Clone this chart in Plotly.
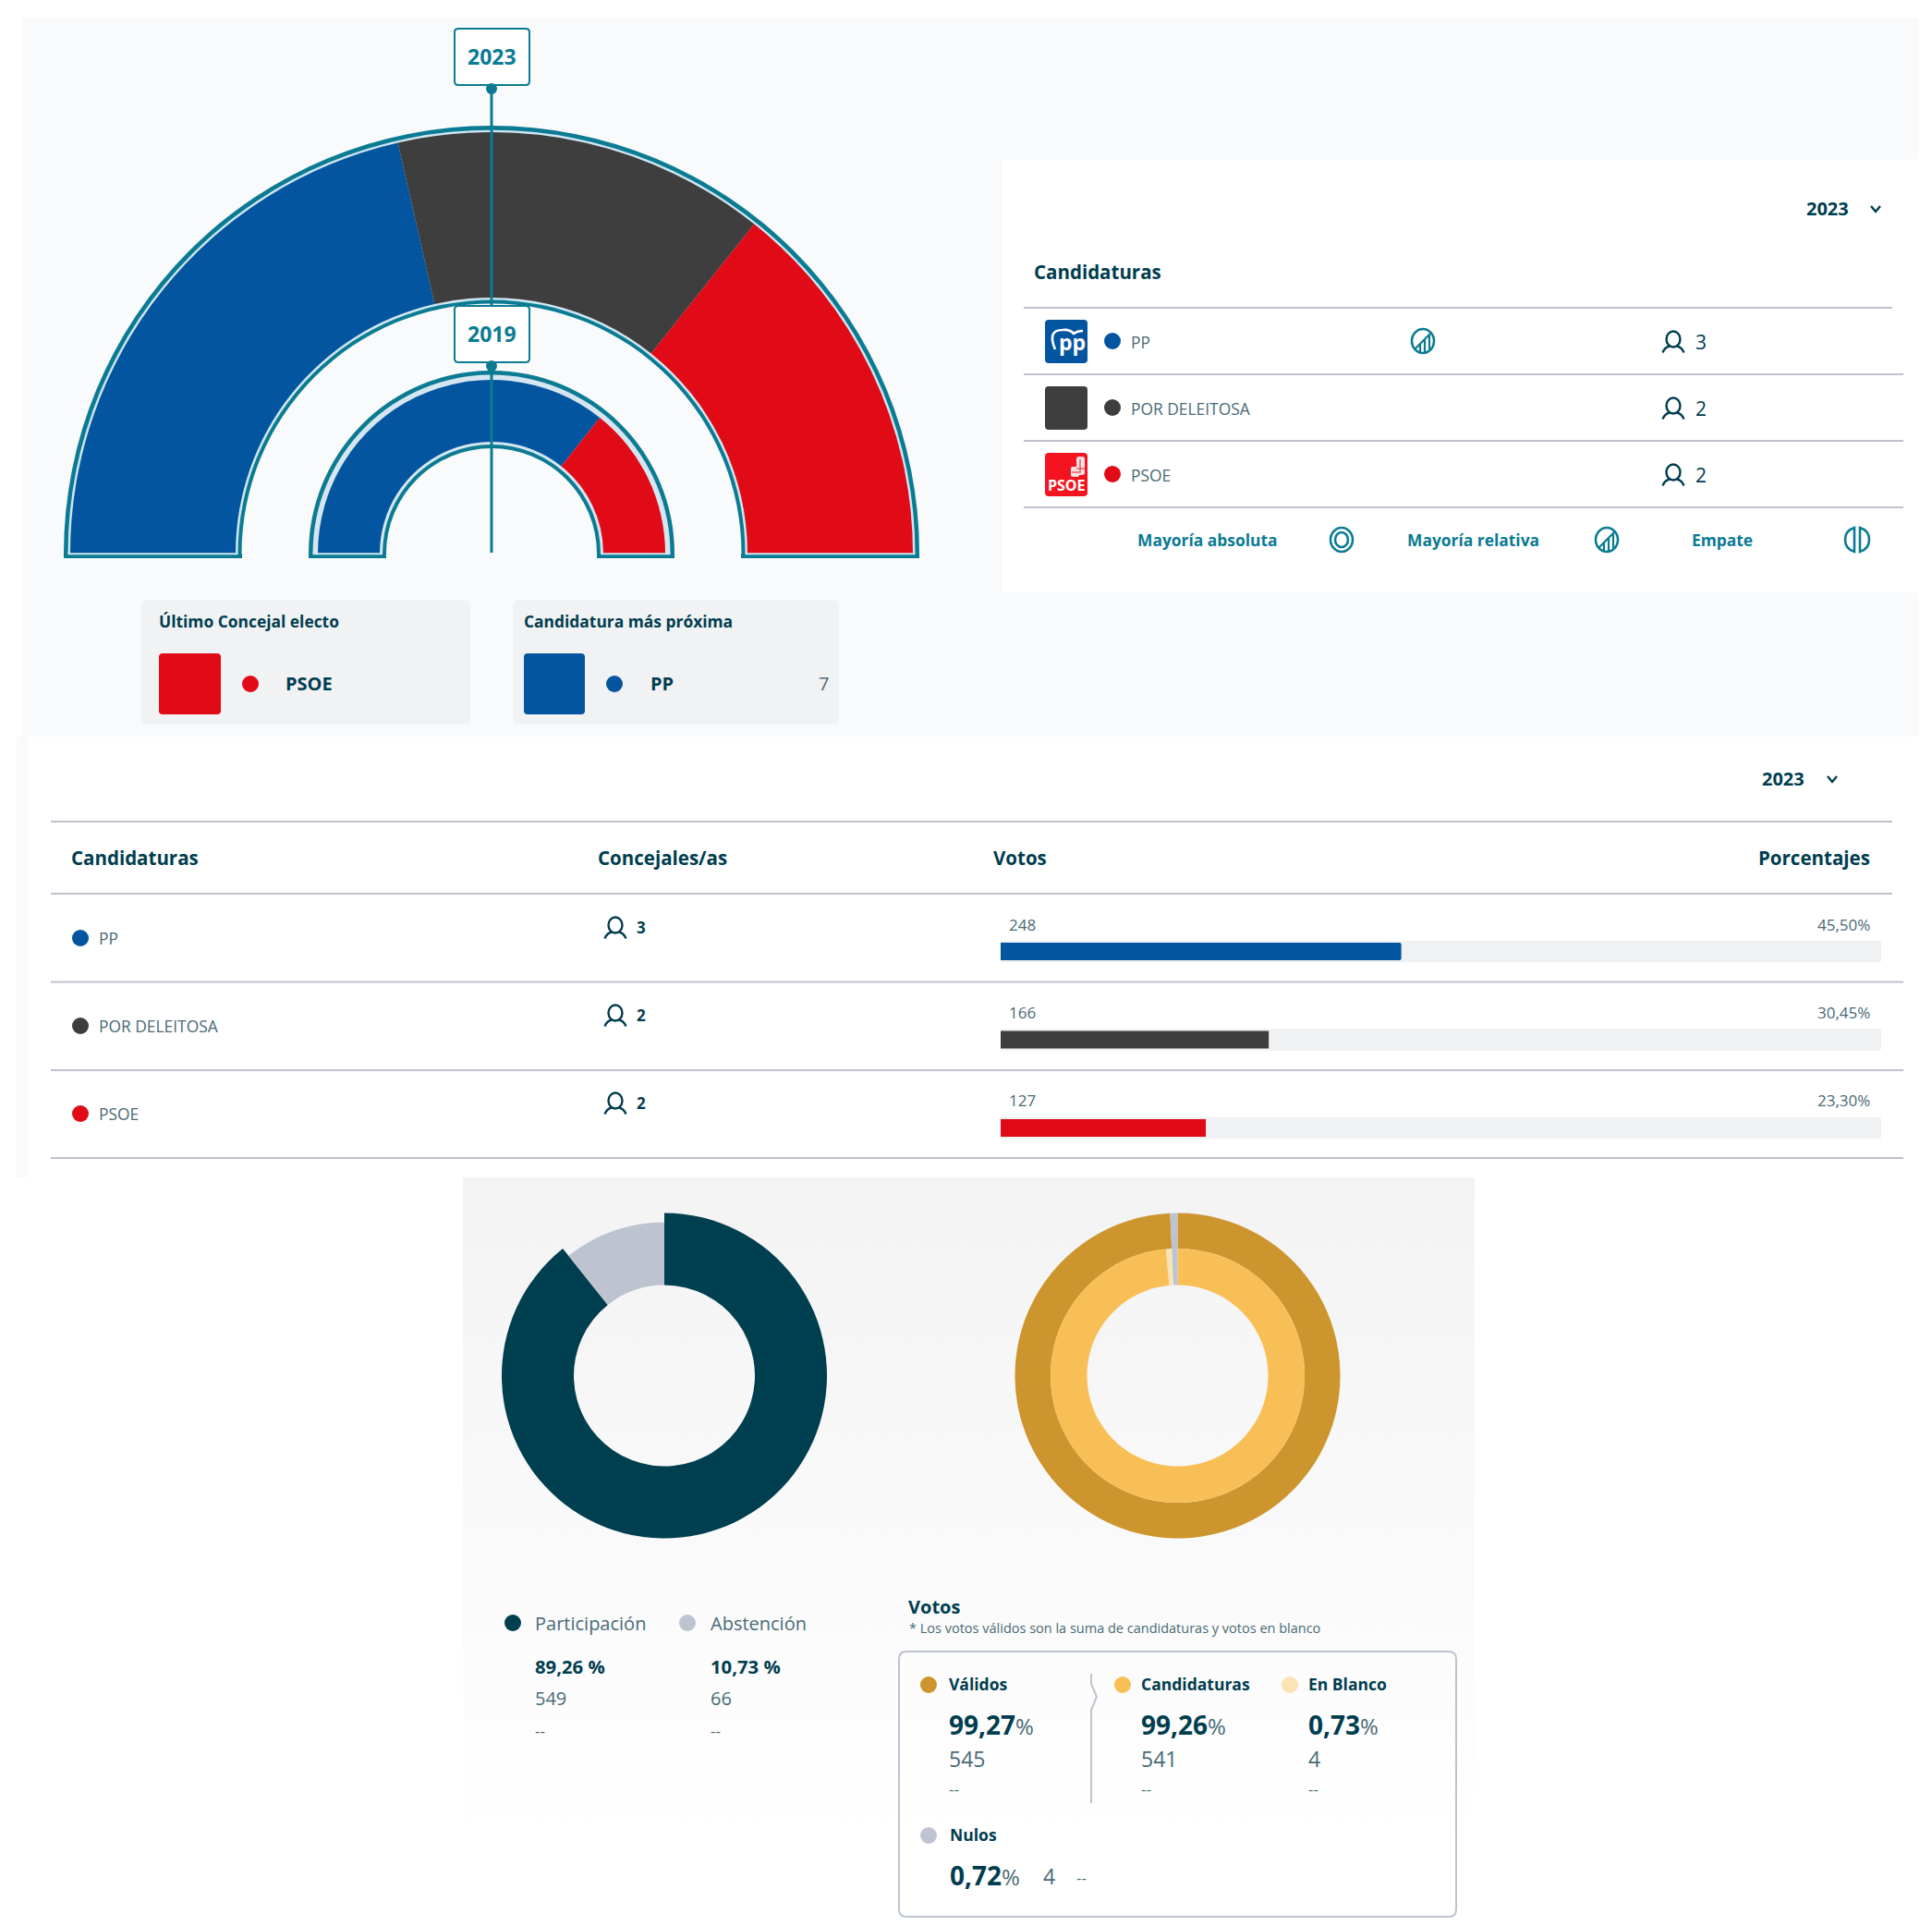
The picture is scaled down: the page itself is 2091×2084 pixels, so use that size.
import plotly.graph_objects as go

W, H = 2091, 2084
parties = ["PP", "POR DELEITOSA", "PSOE"]
party_colors = ["#04559F", "#3E3E3E", "#E10A17"]
seats_2023 = [3, 2, 2]
seats_2019 = [5, 0, 2]
votes = [248, 166, 127]
vote_pct = [45.50, 30.45, 23.30]
vote_pct_labels = ["45,50%", "30,45%", "23,30%"]
year_labels = ["2023", "2019"]
turnout_labels = ["Participación", "Abstención"]
turnout_values = [549, 66]
turnout_pct_labels = ["89,26 %", "10,73 %"]
valid_labels = ["Válidos", "Nulos"]
valid_values = [545, 4]
inner_labels = ["Candidaturas", "En Blanco", "Nulos"]
inner_values = [541, 4, 4]

TEAL, DARK, MUTED = "#0B7B93", "#003D4F", "#4A6A76"
LIGHT = "#CFE6F0"
CLEAR = "rgba(0,0,0,0)"
FONT = "Open Sans"

fig = go.Figure()
shapes, notes = [], []


def rect(x0, y0, x1, y1, fill, layer="below", line=None, lw=0, r=0):
    if r:
        p = (f"M{x0+r},{y0} L{x1-r},{y0} Q{x1},{y0} {x1},{y0+r} L{x1},{y1-r} Q{x1},{y1} {x1-r},{y1} "
             f"L{x0+r},{y1} Q{x0},{y1} {x0},{y1-r} L{x0},{y0+r} Q{x0},{y0} {x0+r},{y0} Z")
        shapes.append(dict(type="path", path=p, fillcolor=fill, layer=layer, xref="x", yref="y",
                           line=dict(color=line or CLEAR, width=lw)))
    else:
        shapes.append(dict(type="rect", x0=x0, y0=y0, x1=x1, y1=y1, fillcolor=fill, layer=layer,
                           xref="x", yref="y", line=dict(color=line or CLEAR, width=lw)))


def hline(x0, x1, y, color="#BFC2CB", lw=2):
    shapes.append(dict(type="line", x0=x0, x1=x1, y0=y, y1=y, xref="x", yref="y", layer="below",
                       line=dict(color=color, width=lw)))


def txt(x, y, s, size=17, color=MUTED, bold=False, anchor="left"):
    dx = {"left": -1.2, "right": 1.2, "center": 0}[anchor]
    notes.append(dict(x=x + dx, y=y - 0.7, xref="x", yref="y", text=f"<b>{s}</b>" if bold else s, showarrow=False,
                      xanchor=anchor, yanchor="middle", borderpad=0,
                      font=dict(family=FONT, size=size, color=color)))


def dot(xs, ys, colors, size=18):
    fig.add_trace(go.Scatter(x=xs, y=ys, mode="markers", hoverinfo="skip", showlegend=False,
                             marker=dict(color=colors, size=size, line=dict(width=0)), xaxis="x", yaxis="y"))


def pie(cx, cy, r, hole, values, colors, rotation=0):
    fig.add_trace(go.Pie(values=values, marker=dict(colors=colors, line=dict(width=0)), hole=hole / r,
                         sort=False, direction="clockwise", rotation=rotation, textinfo="none",
                         hoverinfo="skip", showlegend=False,
                         domain=dict(x=[(cx - r) / W, (cx + r) / W], y=[1 - (cy + r) / H, 1 - (cy - r) / H])))


def person(x, y, s=1.0, color=DARK):
    shapes.append(dict(type="circle", x0=x - 7.5 * s, x1=x + 7.5 * s, y0=y - 11 * s, y1=y + 6 * s, xref="x", yref="y",
                       layer="above", line=dict(color=color, width=2.4)))
    shapes.append(dict(type="path", xref="x", yref="y", layer="above", line=dict(color=color, width=2.4),
                       path=f"M{x-11.5*s},{y+12*s} Q{x-9*s},{y+6*s} {x-4*s},{y+5*s} M{x+11.5*s},{y+12*s} Q{x+9*s},{y+6*s} {x+4*s},{y+5*s}"))


def chevron(x, y):
    shapes.append(dict(type="path", xref="x", yref="y", layer="above", line=dict(color=DARK, width=2.4),
                       path=f"M{x-5},{y-3} L{x},{y+3} L{x+5},{y-3}"))


def ring(x, y, rx, ry=None, lw=2.6):
    ry = ry or rx
    shapes.append(dict(type="circle", x0=x - rx, x1=x + rx, y0=y - ry, y1=y + ry, xref="x", yref="y", layer="above",
                       line=dict(color=TEAL, width=lw)))


def icon_rel(x, y):
    ring(x, y, 12, 13)
    shapes.append(dict(type="path", xref="x", yref="y", layer="above", line=dict(color=TEAL, width=2.2),
                       path=f"M{x-9},{y+9} L{x+9},{y-9} M{x-3},{y+3} L{x-3},{y+12} M{x+2},{y-2} L{x+2},{y+12} M{x+7},{y-6} L{x+7},{y+9}"))


def icon_abs(x, y):
    ring(x, y, 12, 13)
    ring(x, y, 7, 8)


def icon_tie(x, y):
    shapes.append(dict(type="path", xref="x", yref="y", layer="above", line=dict(color=TEAL, width=2.6),
                       path=f"M{x-3},{y-13} Q{x-13},{y-10} {x-13},{y} Q{x-13},{y+10} {x-3},{y+13} Z "
                            f"M{x+3},{y-13} Q{x+13},{y-10} {x+13},{y} Q{x+13},{y+10} {x+3},{y+13} Z"))


# panels
rect(24, 19, 2076, 797, "#F8FAFB")
rect(1085, 173, 2091, 641, "#FFFFFF")
rect(18, 797, 30, 1274, "#F8FAFB")
fig.add_trace(go.Scatter(x=[501, 1596, 1596, 501, 501], y=[1274, 1274, 2084, 2084, 1274], mode="lines", fill="toself",
                         line=dict(width=0), hoverinfo="skip", showlegend=False,
                         fillgradient=dict(type="vertical", colorscale=[[0, "#FFFFFF"], [0.12, "#FFFFFF"], [1, "#F3F3F4"]])))

# hemicycles
half_2023 = sum(seats_2023)
half_2019 = sum(seats_2019)
CX, CY = 532, 599
pie(CX, CY, 463, 270.5, [1, 1], [TEAL, CLEAR], 270)
pie(CX, CY, 458.5, 274.5, [1, 1], [LIGHT, CLEAR], 270)
pie(CX, CY, 456, 277, seats_2023 + [half_2023], party_colors + [CLEAR], 270)
pie(CX, CY, 198, 114, [1, 1], [TEAL, CLEAR], 270)
pie(CX, CY, 193.5, 118, [1, 1], ["#D5E6F0", CLEAR], 270)
pie(CX, CY, 188, 121, seats_2019 + [half_2019], party_colors + [CLEAR], 270)

for x0, x1 in [(69, 262), (802, 995), (334, 418), (646, 730)]:
    rect(x0, 599, x1, 604, TEAL, "above")
for x0, x1 in [(73.5, 257.5), (806.5, 990.5), (338.5, 414), (650, 725.5)]:
    rect(x0, 598.3, x1, 600.3, LIGHT, "above")

shapes.append(dict(type="line", x0=CX, x1=CX, y0=95, y1=598, xref="x", yref="y", layer="above",
                   line=dict(color=TEAL, width=3)))
for y0, y1, lab in [(31, 92, year_labels[0]), (331, 392, year_labels[1])]:
    rect(492, y0, 573, y1, "#FFFFFF", "above", TEAL, 2, 4)
    shapes.append(dict(type="circle", x0=CX - 6, x1=CX + 6, y0=y1 - 2, y1=y1 + 10, xref="x", yref="y", layer="above",
                       fillcolor=TEAL, line=dict(width=0)))
    notes.append(dict(x=CX, y=(y0 + y1) / 2 - 1, xref="x", yref="y", text=f"<b>{lab}</b>", showarrow=False,
                      xanchor="center", yanchor="middle", font=dict(family=FONT, size=23, color=TEAL)))

# last elected / next cards
rect(153, 649, 509, 784, "#F1F2F4", r=6)
rect(555, 649, 908, 784, "#F1F2F4", r=6)
txt(172, 672.5, "Último Concejal electo", 17.4, DARK, True)
txt(567, 672.5, "Candidatura más próxima", 17.4, DARK, True)
rect(172, 707, 239, 773, party_colors[2], r=4)
rect(567, 707, 633, 773, party_colors[0], r=4)
dot([271, 665], [740, 740], [party_colors[2], party_colors[0]])
txt(309, 740, parties[2], 20, DARK, True)
txt(704, 740, parties[0], 20, DARK, True)
txt(897, 740, "7", 20, MUTED, False, "right")

# candidaturas panel
txt(1955, 226, year_labels[0], 20, DARK, True)
chevron(2030, 226)
txt(1119, 294.5, "Candidaturas", 20.5, DARK, True)
hline(1108, 2048, 333)
row_y = [369, 441, 513]
for y in [405, 477, 549]:
    hline(1108, 2060, y)
rect(1131, 346, 1177, 393, party_colors[0], r=4)
rect(1131, 418, 1177, 465, "#3E3E3E", r=4)
rect(1131, 490, 1177, 537, "#F4141F", r=4)
txt(1160, 371, "pp", 23, "#FFFFFF", True, "center")
shapes.append(dict(type="path", xref="x", yref="y", layer="above", line=dict(color="#FFFFFF", width=2.6),
                   path="M1142,378 Q1133,357 1150,357 Q1158,356 1162,361 Q1166,358 1172,358"))
txt(1154.5, 526, "PSOE", 16, "#FFFFFF", True, "center")
rect(1165, 494, 1174, 514, "#FBE4E4", "above", r=3)
rect(1159, 505, 1168, 516, "#FBE4E4", "above", r=2)
shapes.append(dict(type="path", xref="x", yref="y", layer="above", line=dict(color="#F4141F", width=1),
                   path="M1169,497 L1169,512 M1165,507 L1174,507 M1160,511 L1168,511"))
dot([1204] * 3, row_y, party_colors)
for i, p in enumerate(parties):
    txt(1224, row_y[i] + 1.4, p, 17.4, MUTED)
    person(1811, row_y[i] + 0.5)
    notes.append(dict(x=1833, y=row_y[i] + 1, xref="x", yref="y", text=str(seats_2023[i]), showarrow=False,
                      xanchor="left", yanchor="middle", font=dict(family=FONT, size=21, color=DARK)))
icon_rel(1540, 369)
txt(1231, 584.5, "Mayoría absoluta", 17.4, TEAL, True)
icon_abs(1452, 584)
txt(1523, 584.5, "Mayoría relativa", 17.4, TEAL, True)
icon_rel(1739, 584)
txt(1831, 584.5, "Empate", 17.4, TEAL, True)
icon_tie(2010, 584)

# results table
txt(1907, 843, year_labels[0], 20, DARK, True)
chevron(1983, 843)
hline(55, 2048, 889)
hline(55, 2048, 967)
for y in [1062.5, 1158, 1253]:
    hline(55, 2060, y)
txt(77, 928.5, "Candidaturas", 20.5, DARK, True)
txt(647, 928.5, "Concejales/as", 20.5, DARK, True)
txt(1075, 928.5, "Votos", 20.5, DARK, True)
txt(2024, 928.5, "Porcentajes", 20.5, DARK, True, "right")
tr_y = [1015, 1110, 1205]
dot([87] * 3, tr_y, party_colors)
for i, p in enumerate(parties):
    y = tr_y[i]
    txt(107, y + 0.5, p, 17.4, MUTED)
    person(666, y - 11.5)
    txt(689, y - 11, str(seats_2023[i]), 17, DARK, True)
    txt(1092, y - 13.5, str(votes[i]), 17, MUTED)
    txt(2024, y - 13.5, vote_pct_labels[i], 17, MUTED, False, "right")

fig.add_trace(go.Bar(y=parties, x=[100] * 3, orientation="h", width=0.245, xaxis="x2", yaxis="y2",
                     marker=dict(color="#F0F1F3", line=dict(width=0), cornerradius=3), hoverinfo="skip", showlegend=False))
fig.add_trace(go.Bar(y=parties, x=vote_pct, orientation="h", width=0.2, xaxis="x2", yaxis="y2",
                     marker=dict(color=party_colors, line=dict(width=0), cornerradius=2), hoverinfo="skip", showlegend=False))

# donuts
DCX, DCY = 719, 1488.5
pie(DCX, DCY, 176, 98, turnout_values, ["#003F50", CLEAR])
pie(DCX, DCY, 166, 98, turnout_values, [CLEAR, "#BDC4D0"])
VCX = 1274.5
pie(VCX, DCY, 176, 137.5, valid_values, ["#CD952D", "#BDC4D0"])
pie(VCX, DCY, 137.5, 98, inner_values, ["#F9BF57", "#FCE3B6", "#BDC4D0"])

dot([555, 744], [1756, 1756], ["#003F50", "#BDC4D0"])
for x, i in [(579, 0), (769, 1)]:
    txt(x, 1757, turnout_labels[i], 20, MUTED)
    txt(x, 1803.5, turnout_pct_labels[i], 20.3, DARK, True)
    txt(x, 1838, str(turnout_values[i]), 20, MUTED)
    txt(x, 1873, "--", 17, MUTED)

txt(983, 1739, "Votos", 20, DARK, True)
txt(984, 1762, "* Los votos válidos son la suma de candidaturas y votos en blanco", 14.5, MUTED)
rect(973, 1787, 1576, 2074, CLEAR, "above", "#BDC4D0", 2, 8)
shapes.append(dict(type="path", xref="x", yref="y", layer="above", line=dict(color="#BDC4D0", width=2),
                   path="M1181,1811 L1181,1822 L1187,1836 L1181,1850 L1181,1951"))
dot([1005, 1215, 1396, 1005], [1823, 1823, 1823, 1986], ["#CD952D", "#F9BF57", "#FCE3B6", "#BDC4D0"])


def pct(v):
    return f'<b>{v}</b><span style="font-size:24px;font-weight:400;fill:{MUTED}">%</span>'


for x, lab, p, n in [(1027, valid_labels[0], "99,27", 545), (1235, inner_labels[0], "99,26", 541), (1416, inner_labels[1], "0,73", 4)]:
    txt(x, 1823, lab, 17.5, DARK, True)
    txt(x, 1867, pct(p), 28, DARK)
    txt(x, 1904, str(n), 23, MUTED)
    txt(x, 1936, "--", 17, MUTED)
txt(1028, 1986, valid_labels[1], 17.5, DARK, True)
txt(1028, 2030, pct("0,72"), 28, DARK)
txt(1129, 2031, str(valid_values[1]), 23, MUTED)
txt(1165, 2032, "--", 17, MUTED)

row_pitch = 95.5
fig.update_layout(
    width=W, height=H, autosize=False, margin=dict(l=0, r=0, t=0, b=0, pad=0),
    paper_bgcolor="#FFFFFF", plot_bgcolor="rgba(0,0,0,0)", showlegend=False, barmode="overlay",
    shapes=shapes, annotations=notes, font=dict(family=FONT),
    xaxis=dict(range=[0, W], visible=False, domain=[0, 1], fixedrange=True),
    yaxis=dict(range=[H, 0], visible=False, domain=[0, 1], fixedrange=True),
    xaxis2=dict(range=[0, 100], visible=False, domain=[1083 / W, 2036 / W], anchor="y2", fixedrange=True),
    yaxis2=dict(categoryorder="array", categoryarray=parties, range=[2.5, -0.5], visible=False, anchor="x2", fixedrange=True,
                domain=[1 - (1029.5 + 2.5 * row_pitch) / H, 1 - (1029.5 - 0.5 * row_pitch) / H]),
)
fig.write_html("out.html", config=dict(displayModeBar=False, responsive=False),
               post_script="document.body.style.margin='0';document.body.style.overflow='hidden';")
